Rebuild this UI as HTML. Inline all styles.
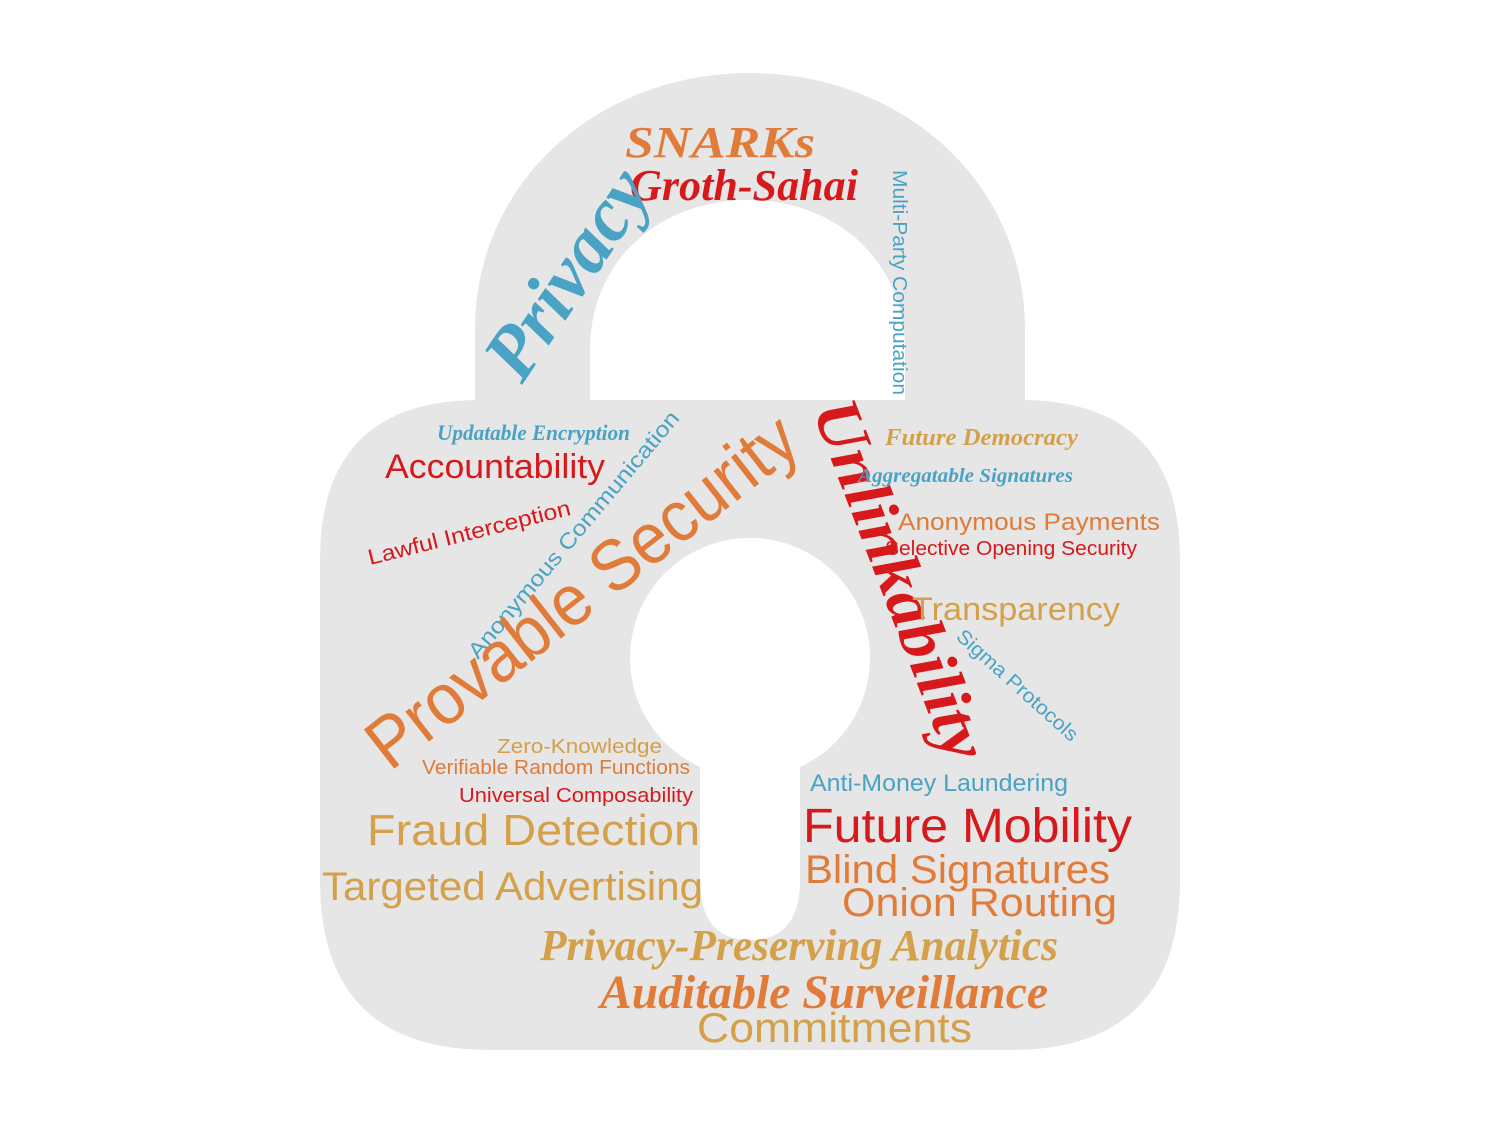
<!DOCTYPE html>
<html><head><meta charset="utf-8"><style>
html,body{margin:0;padding:0;background:#fff}
svg{display:block}
.s{font-family:"Liberation Sans",sans-serif}
.c{font-family:"Liberation Serif",serif;font-style:italic;font-weight:bold}
</style></head><body>
<svg width="1500" height="1125" viewBox="0 0 1500 1125">
<path fill="#e6e6e6" fill-rule="evenodd" d="
M475,410 L475,330 C475,180 600,73 750,73 C900,73 1025,180 1025,330 L1025,410 L905,410 L905,350 C905,260 835,200 748,200 C660,200 590,260 590,350 L590,410 Z"/>
<path fill="#e6e6e6" fill-rule="evenodd" d="
M480,400 L1020,400 Q1180,400 1180,560 L1180,880 Q1180,1050 1010,1050 L490,1050 Q320,1050 320,880 L320,560 Q320,400 480,400 Z
M700,767 A120,120 0 1 1 800,767 L800,880 Q800,940 750,940 Q700,940 700,880 Z"/>

<g class="c">
<text x="625" y="157" font-size="44" fill="#e07b39" textLength="190" lengthAdjust="spacingAndGlyphs">SNARKs</text>
<text x="630" y="200" font-size="44" fill="#d7191c" textLength="228" lengthAdjust="spacingAndGlyphs">Groth-Sahai</text>
<text transform="translate(522,385) rotate(-56)" font-size="76" fill="#4aa3c4" textLength="235" lengthAdjust="spacingAndGlyphs">Privacy</text>
<text x="437" y="440" font-size="22" fill="#4aa3c4" textLength="193" lengthAdjust="spacingAndGlyphs">Updatable Encryption</text>
<text transform="translate(812,410) rotate(69)" font-size="66" fill="#d7191c" textLength="380" lengthAdjust="spacingAndGlyphs">Unlinkability</text>
<text x="885" y="445" font-size="24" fill="#d4a04a" textLength="193" lengthAdjust="spacingAndGlyphs">Future Democracy</text>
<text x="858" y="482" font-size="20" fill="#4aa3c4" textLength="215" lengthAdjust="spacingAndGlyphs">Aggregatable Signatures</text>
<text x="540" y="960" font-size="44" fill="#d4a04a" textLength="518" lengthAdjust="spacingAndGlyphs">Privacy-Preserving Analytics</text>
<text x="600" y="1008" font-size="48" fill="#e07b39" textLength="448" lengthAdjust="spacingAndGlyphs">Auditable Surveillance</text>
</g>
<g class="s">
<text transform="translate(893,170) rotate(90)" font-size="20" fill="#4aa3c4" textLength="225" lengthAdjust="spacingAndGlyphs">Multi-Party Computation</text>
<text x="385" y="478" font-size="34" fill="#d7191c" textLength="220" lengthAdjust="spacingAndGlyphs">Accountability</text>
<text transform="translate(370,565) rotate(-14)" font-size="22" fill="#d7191c" textLength="208" lengthAdjust="spacingAndGlyphs">Lawful Interception</text>
<text transform="translate(478,660) rotate(-50)" font-size="22" fill="#4aa3c4" textLength="315" lengthAdjust="spacingAndGlyphs">Anonymous Communication</text>
<text transform="translate(390,772) rotate(-38)" font-size="72" fill="#e07b39" textLength="525" lengthAdjust="spacingAndGlyphs">Provable Security</text>
<text x="898" y="530" font-size="24" fill="#e07b39" textLength="262" lengthAdjust="spacingAndGlyphs">Anonymous Payments</text>
<text x="885" y="555" font-size="20" fill="#d7191c" textLength="252" lengthAdjust="spacingAndGlyphs">Selective Opening Security</text>
<text x="912" y="620" font-size="32" fill="#d4a04a" textLength="208" lengthAdjust="spacingAndGlyphs">Transparency</text>
<text transform="translate(955,638) rotate(42)" font-size="20" fill="#4aa3c4" textLength="156" lengthAdjust="spacingAndGlyphs">Sigma Protocols</text>
<text x="497" y="753" font-size="20" fill="#d4a04a" textLength="165" lengthAdjust="spacingAndGlyphs">Zero-Knowledge</text>
<text x="422" y="774" font-size="20" fill="#e07b39" textLength="268" lengthAdjust="spacingAndGlyphs">Verifiable Random Functions</text>
<text x="459" y="802" font-size="20" fill="#d7191c" textLength="234" lengthAdjust="spacingAndGlyphs">Universal Composability</text>
<text x="367" y="845" font-size="44" fill="#d4a04a" textLength="333" lengthAdjust="spacingAndGlyphs">Fraud Detection</text>
<text x="322" y="900" font-size="40" fill="#d4a04a" textLength="381" lengthAdjust="spacingAndGlyphs">Targeted Advertising</text>
<text x="810" y="791" font-size="24" fill="#4aa3c4" textLength="258" lengthAdjust="spacingAndGlyphs">Anti-Money Laundering</text>
<text x="803" y="842" font-size="48" fill="#d7191c" textLength="329" lengthAdjust="spacingAndGlyphs">Future Mobility</text>
<text x="805" y="883" font-size="40" fill="#e07b39" textLength="305" lengthAdjust="spacingAndGlyphs">Blind Signatures</text>
<text x="842" y="916" font-size="40" fill="#e07b39" textLength="275" lengthAdjust="spacingAndGlyphs">Onion Routing</text>
<text x="697" y="1042" font-size="42" fill="#d4a04a" textLength="275" lengthAdjust="spacingAndGlyphs">Commitments</text>
</g>
</svg>
</body></html>
